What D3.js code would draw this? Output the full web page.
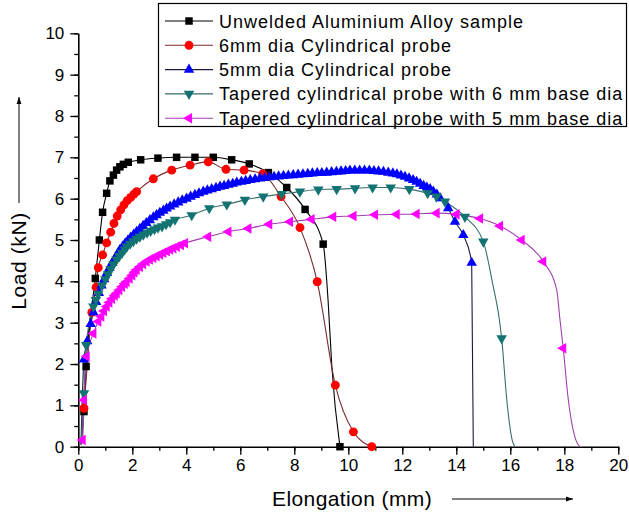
<!DOCTYPE html>
<html>
<head>
<meta charset="utf-8">
<script src="https://cdn.jsdelivr.net/npm/d3@7"></script>
<style>
  body { margin: 0; background: #fff; }
  svg { display: block; font-family: "Liberation Sans", Arial, sans-serif; }
</style>
</head>
<body>
<div id="chart"></div>
<script>
var width = 629, height = 513;

// elongation (mm), load (kN) -- points carrying a marker
var unweldedPts = [[0.21,0.85],[0.29,1.94],[0.63,4.07],[0.78,5.00],[0.90,5.67],[1.05,6.13],[1.17,6.43],
  [1.30,6.57],[1.42,6.69],[1.54,6.77],[1.67,6.83],[1.85,6.88],[2.31,6.94],[2.95,6.98],[3.64,7.00],
  [4.32,7.00],[5.00,7.00],[5.68,6.94],[6.33,6.84],[7.04,6.63],[7.72,6.27],[8.40,5.74],[9.07,4.90],[9.69,0.00]];
// line only (no marker)
var unweldedLine = [[0.10,0.05],[9.25,3.55],[9.39,1.94]];

var cyl6Pts = [[0.21,0.93],[0.50,3.25],[0.66,3.86],[0.74,4.33],[0.90,4.64],[1.05,4.93],[1.20,5.19],
  [1.32,5.40],[1.44,5.58],[1.57,5.73],[1.69,5.85],[1.81,5.95],[1.94,6.03],[2.06,6.11],[2.16,6.17],
  [2.78,6.48],[3.46,6.69],[4.14,6.81],[4.81,6.89],[5.47,6.71],[6.14,6.69],[6.83,6.60],[7.51,6.05],
  [8.21,5.30],[8.85,3.99],[9.52,1.49],[10.19,0.36],[10.87,0.00]];
var cyl6Line = [[0.10,0.05]];

var cyl5Pts = [[0.21,2.11],[0.33,2.55],[0.46,2.97],[0.56,3.25],[0.66,3.50],[0.76,3.72],[0.86,3.90],
  [0.96,4.05],[1.06,4.20],[1.16,4.33],[1.26,4.45],[1.36,4.56],[1.46,4.67],[1.54,4.76],[1.64,4.84],
  [1.74,4.92],[1.84,4.99],[1.94,5.06],[2.05,5.13],[2.16,5.20],[2.28,5.27],[2.40,5.34],[2.52,5.41],
  [2.65,5.48],[2.78,5.55],[2.90,5.60],[3.02,5.66],[3.15,5.71],[3.27,5.76],[3.40,5.81],[3.55,5.86],
  [3.70,5.91],[3.85,5.96],[4.01,6.00],[4.16,6.05],[4.32,6.09],[4.47,6.13],[4.63,6.17],[4.78,6.20],
  [4.94,6.23],[5.10,6.26],[5.25,6.29],[5.40,6.31],[5.56,6.34],[5.72,6.36],[5.87,6.39],[6.04,6.41],
  [6.20,6.43],[6.37,6.45],[6.55,6.47],[6.73,6.49],[6.90,6.50],[7.08,6.52],[7.25,6.53],[7.42,6.54],
  [7.60,6.55],[7.78,6.56],[7.96,6.57],[8.14,6.58],[8.32,6.59],[8.50,6.60],[8.67,6.61],[8.85,6.62],
  [9.02,6.62],[9.20,6.63],[9.38,6.64],[9.56,6.65],[9.73,6.66],[9.90,6.67],[10.06,6.68],[10.24,6.68],
  [10.42,6.68],[10.60,6.68],[10.78,6.68],[10.95,6.67],[11.12,6.66],[11.30,6.65],[11.48,6.63],
  [11.65,6.61],[11.80,6.59],[11.95,6.56],[12.10,6.53],[12.25,6.49],[12.40,6.45],[12.53,6.41],
  [12.66,6.36],[12.79,6.31],[12.91,6.27],[13.03,6.23],[13.15,6.17],[13.28,6.10],[13.40,6.01],
  [13.70,5.77],[13.95,5.44],[14.26,5.12],[14.57,4.45]];
var cyl5Line = [[0.10,0.10],[14.63,0.00]];

var taper6Pts = [[0.21,1.29],[0.29,2.46],[0.56,3.39],[0.65,3.55],[0.74,3.70],[0.88,3.90],[1.00,4.05],
  [1.10,4.17],[1.20,4.30],[1.30,4.41],[1.42,4.53],[1.52,4.61],[1.62,4.69],[1.72,4.77],[1.80,4.84],
  [1.92,4.91],[2.04,4.97],[2.16,5.03],[2.28,5.08],[2.41,5.13],[2.55,5.18],[2.68,5.22],[2.82,5.26],
  [2.95,5.30],[3.10,5.33],[3.25,5.38],[3.40,5.43],[3.58,5.49],[4.20,5.60],[4.85,5.77],[5.50,5.86],
  [6.17,5.97],[6.85,6.05],[7.53,6.11],[8.21,6.17],[8.89,6.22],[9.57,6.23],[10.25,6.25],[10.90,6.27],
  [11.57,6.27],[12.26,6.23],[12.94,6.13],[13.27,6.05],[13.58,5.93],[14.32,5.56],[15.00,4.96],[15.68,2.62]];
var taper6Line = [[0.10,0.05],[15.37,3.87],[15.56,3.23],[15.87,1.13],[16.07,0.16],[16.17,0.00]];

var taper5Pts = [[0.16,0.16],[0.21,1.13],[0.31,2.18],[0.56,2.74],[0.74,3.03],[0.85,3.15],[0.95,3.28],
  [1.05,3.39],[1.15,3.49],[1.25,3.58],[1.35,3.66],[1.42,3.71],[1.52,3.79],[1.62,3.87],[1.72,3.94],
  [1.79,3.99],[1.90,4.07],[2.00,4.15],[2.08,4.22],[2.16,4.28],[2.28,4.35],[2.40,4.42],[2.53,4.48],
  [2.65,4.53],[2.78,4.57],[2.90,4.61],[3.03,4.65],[3.15,4.69],[3.28,4.73],[3.40,4.77],[3.52,4.80],
  [3.65,4.84],[3.80,4.88],[3.95,4.92],[4.81,5.08],[5.56,5.20],[6.30,5.28],[7.07,5.38],[7.84,5.44],
  [8.64,5.50],[9.44,5.56],[10.19,5.58],[10.99,5.61],[11.79,5.62],[12.53,5.63],[13.27,5.65],[14.01,5.62],
  [14.88,5.52],[15.62,5.34],[16.42,5.00],[17.22,4.48],[17.96,2.38]];
var taper5Line = [[0.10,0.05],[17.72,3.79],[17.84,3.07],[18.15,1.13],[18.43,0.16],[18.58,0.00]];

var seriesNames = ["Unwelded Aluminium Alloy sample", "6mm dia Cylindrical probe", "5mm dia Cylindrical probe",
  "Tapered cylindrical probe with 6 mm base dia", "Tapered cylindrical probe with 5 mm base dia"];
var xTicks = [0, 2, 4, 6, 8, 10, 12, 14, 16, 18, 20];
var yTicks = [0, 1, 2, 3, 4, 5, 6, 7, 8, 9, 10];

var series = [
  { name: seriesNames[0], pts: unweldedPts, extra: unweldedLine, line: "#000000", fill: "#000000", sym: d3.symbolSquare, size: 56, rot: 0 },
  { name: seriesNames[1], pts: cyl6Pts, extra: cyl6Line, line: "#7a2a2a", fill: "#ff0000", sym: d3.symbolCircle, size: 62, rot: 0 },
  { name: seriesNames[2], pts: cyl5Pts, extra: cyl5Line, line: "#1a1a40", fill: "#0000ff", sym: d3.symbolTriangle, size: 48, rot: 0 },
  { name: seriesNames[3], pts: taper6Pts, extra: taper6Line, line: "#3a6e6e", fill: "#137272", sym: d3.symbolTriangle, size: 48, rot: 180 },
  { name: seriesNames[4], pts: taper5Pts, extra: taper5Line, line: "#a040b0", fill: "#ff00ff", sym: d3.symbolTriangle, size: 48, rot: -90 }
];

var margin = { top: 33.3, left: 78.3 };
var plotW = 540, plotH = 413.4;

var svg = d3.select("#chart").append("svg")
    .attr("width", width)
    .attr("height", height);

var g = svg.append("g")
    .attr("transform", "translate(" + margin.left + "," + margin.top + ")");

var x = d3.scaleLinear().domain([0, 20]).range([0, plotW]);
var y = d3.scaleLinear().domain([0, 10]).range([plotH, 0]);

// minor ticks
g.append("g")
    .attr("transform", "translate(0," + plotH + ")")
    .call(d3.axisBottom(x).ticks(20).tickSize(4).tickFormat(""))
    .call(function(a){ a.select(".domain").remove(); });
g.append("g")
    .call(d3.axisLeft(y).ticks(20).tickSize(4).tickFormat(""))
    .call(function(a){ a.select(".domain").remove(); });

// major axes
var xAxis = g.append("g")
    .attr("transform", "translate(0," + plotH + ")")
    .call(d3.axisBottom(x).tickValues(xTicks).tickSize(8).tickSizeOuter(0).tickPadding(4));
var yAxis = g.append("g")
    .call(d3.axisLeft(y).tickValues(yTicks).tickSize(8).tickSizeOuter(0).tickPadding(6));

g.selectAll(".tick line").attr("stroke", "#000").attr("stroke-width", 1.3);
g.selectAll(".domain").attr("stroke", "#000").attr("stroke-width", 1.6);
g.selectAll(".tick text")
    .attr("fill", "#000")
    .style("font-size", "17px")
    .style("font-family", "Liberation Sans, Arial, sans-serif");

// series
var line = d3.line()
    .x(function(d){ return x(d[0]); })
    .y(function(d){ return y(d[1]); })
    .curve(d3.curveMonotoneX);

series.forEach(function(s){
  var all = s.pts.concat(s.extra).sort(function(a, b){ return a[0] - b[0]; });
  g.append("path")
      .datum(all)
      .attr("d", line)
      .attr("fill", "none")
      .attr("stroke", s.line)
      .attr("stroke-width", 1.1);
});

series.forEach(function(s){
  var sym = d3.symbol().type(s.sym).size(s.size);
  g.selectAll(null)
      .data(s.pts)
    .enter().append("path")
      .attr("d", sym)
      .attr("transform", function(d){ return "translate(" + x(d[0]) + "," + y(d[1]) + ") rotate(" + s.rot + ")"; })
      .attr("fill", s.fill);
});

// legend
var legend = svg.append("g");
legend.append("rect")
    .attr("x", 158.5).attr("y", 3.5)
    .attr("width", 468).attr("height", 123)
    .attr("fill", "#fff")
    .attr("stroke", "#000")
    .attr("stroke-width", 1.2);

var rows = legend.selectAll(".row")
    .data(series)
  .enter().append("g")
    .attr("class", "row")
    .attr("transform", function(d, i){ return "translate(0," + (21 + i * 24.3) + ")"; });

rows.append("line")
    .attr("x1", 165).attr("x2", 213)
    .attr("stroke", function(d){ return d.line; })
    .attr("stroke-width", 1.1);
rows.append("path")
    .attr("d", function(d){ return d3.symbol().type(d.sym).size(d.size)(); })
    .attr("transform", function(d){ return "translate(189,0) rotate(" + d.rot + ")"; })
    .attr("fill", function(d){ return d.fill; });
rows.append("text")
    .attr("x", 219).attr("y", 6.5)
    .style("font-size", "18px")
    .style("letter-spacing", "1px")
    .text(function(d){ return d.name; });

// axis titles with arrows
svg.append("defs").append("marker")
    .attr("id", "arrow")
    .attr("viewBox", "0 0 10 10")
    .attr("refX", 10).attr("refY", 5)
    .attr("markerWidth", 7).attr("markerHeight", 7)
    .attr("orient", "auto")
  .append("path")
    .attr("d", "M0,1.5 L10,5 L0,8.5 Z")
    .attr("fill", "#000");

svg.append("text")
    .attr("transform", "translate(26,261) rotate(-90)")
    .attr("text-anchor", "middle")
    .style("font-size", "21px")
    .style("letter-spacing", "0.6px")
    .text("Load (kN)");
svg.append("line")
    .attr("x1", 19).attr("x2", 19)
    .attr("y1", 203).attr("y2", 97)
    .attr("stroke", "#000").attr("stroke-width", 1)
    .attr("marker-end", "url(#arrow)");

svg.append("text")
    .attr("x", 272).attr("y", 506)
    .style("font-size", "21px")
    .style("letter-spacing", "0.4px")
    .text("Elongation (mm)");
svg.append("line")
    .attr("x1", 452).attr("x2", 573)
    .attr("y1", 499).attr("y2", 499)
    .attr("stroke", "#000").attr("stroke-width", 1)
    .attr("marker-end", "url(#arrow)");
</script>
</body>
</html>
